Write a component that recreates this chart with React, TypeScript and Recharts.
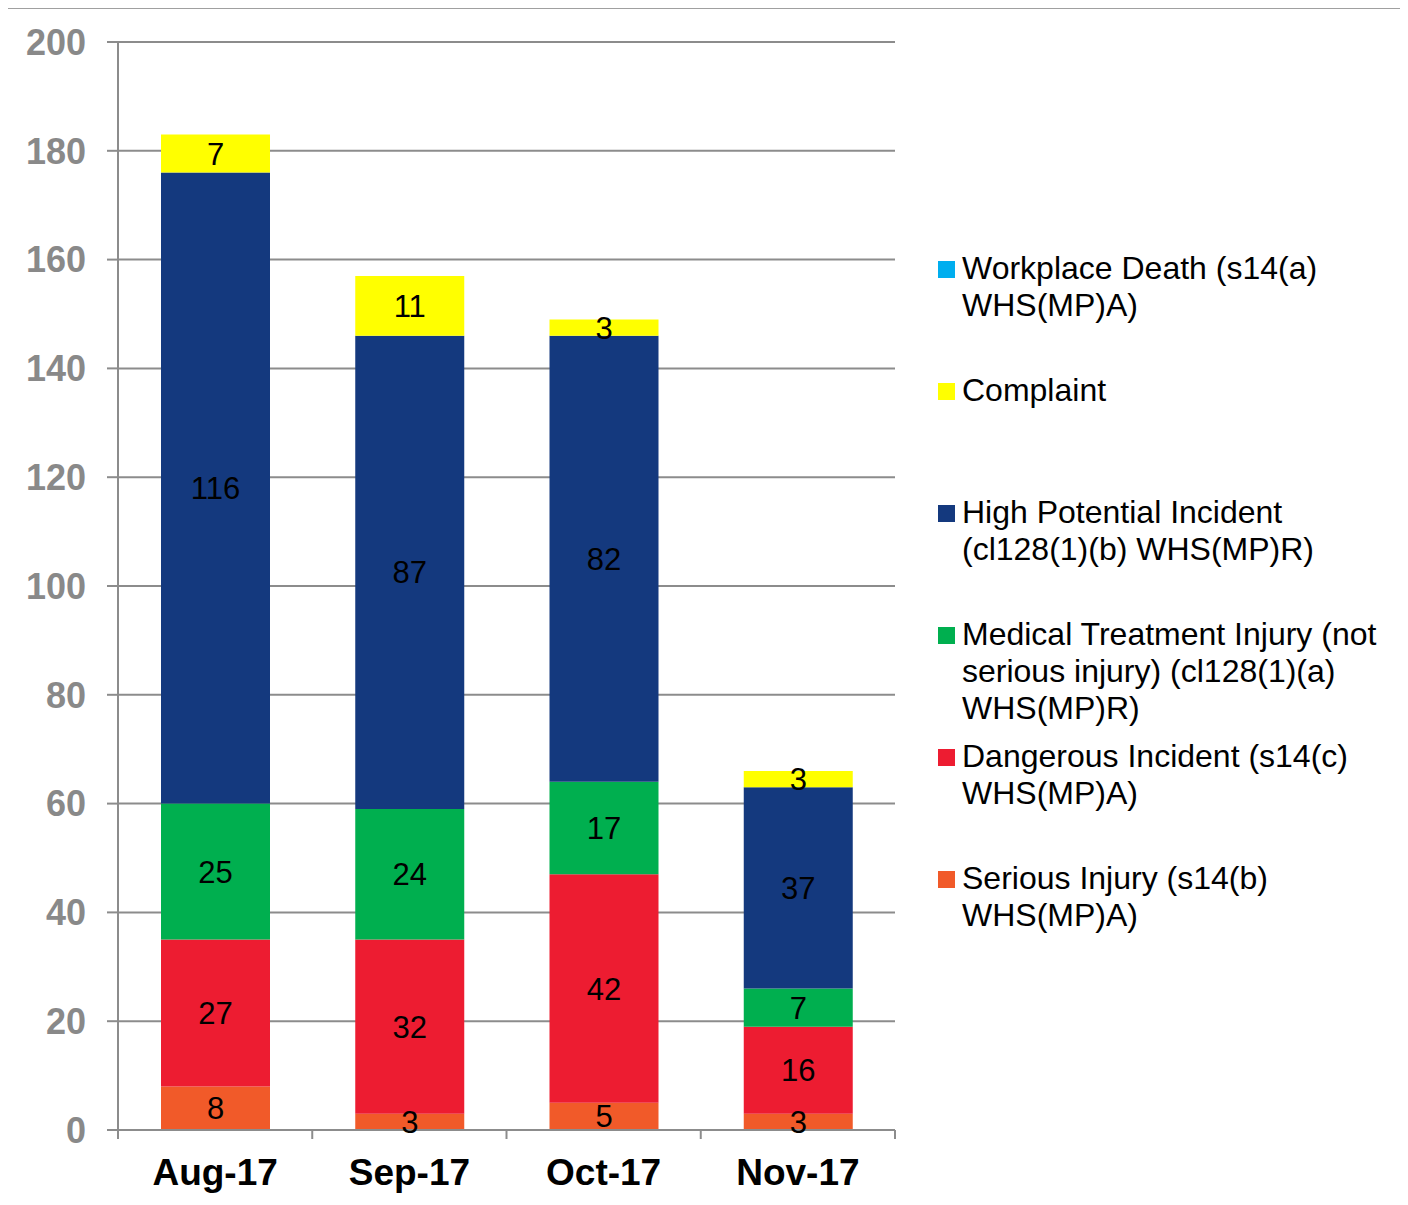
import {
  BarChart,
  Bar,
  XAxis,
  YAxis,
  CartesianGrid,
  LabelList,
} from "recharts";

const months = ["Aug-17", "Sep-17", "Oct-17", "Nov-17"];
const seriousInjury = [8, 3, 5, 3];
const dangerousIncident = [27, 32, 42, 16];
const medicalTreatment = [25, 24, 17, 7];
const highPotential = [116, 87, 82, 37];
const complaint = [7, 11, 3, 3];
const workplaceDeath = [0, 0, 0, 0];
const yTicks = [0, 20, 40, 60, 80, 100, 120, 140, 160, 180, 200];

const data = months.map((m, i) => ({
  month: m,
  serious: seriousInjury[i],
  dangerous: dangerousIncident[i],
  medical: medicalTreatment[i],
  high: highPotential[i],
  complaint: complaint[i],
  death: workplaceDeath[i],
}));

const SERIES = [
  { key: "serious", color: "#F15A29", label: true },
  { key: "dangerous", color: "#ED1C31", label: true },
  { key: "medical", color: "#00AF4F", label: true },
  { key: "high", color: "#14397E", label: true },
  { key: "complaint", color: "#FFFF00", label: true },
  { key: "death", color: "#00AEEF", label: false },
];

// legend order top to bottom, with the line breaks used in the original
const LEGEND = [
  { key: "death", lines: ["Workplace Death (s14(a)", "WHS(MP)A)"] },
  { key: "complaint", lines: ["Complaint"] },
  { key: "high", lines: ["High Potential Incident", "(cl128(1)(b) WHS(MP)R)"] },
  { key: "medical", lines: ["Medical Treatment Injury (not", "serious injury) (cl128(1)(a)", "WHS(MP)R)"] },
  { key: "dangerous", lines: ["Dangerous Incident (s14(c)", "WHS(MP)A)"] },
  { key: "serious", lines: ["Serious Injury (s14(b)", "WHS(MP)A)"] },
];

const FONT = "Arial, 'Liberation Sans', sans-serif";
const GRID = "#8c8c8c";
const FRAME = "#a0a0a0";

// month label plus the tick marks that sit between categories (as in Excel)
function MonthTick(props: any) {
  const { x, y, payload, index, visibleTicksCount, width } = props;
  const count = visibleTicksCount || months.length;
  const half = width ? width / count / 2 : 0;
  return (
    <g>
      {half > 0 && (
        <line x1={x - half} x2={x - half} y1={y} y2={y + 9} stroke={GRID} strokeWidth={2} />
      )}
      {half > 0 && index === count - 1 && (
        <line x1={x + half} x2={x + half} y1={y} y2={y + 9} stroke={GRID} strokeWidth={2} />
      )}
      <text
        x={x}
        y={y + 29}
        dy="0.71em"
        textAnchor="middle"
        fill="#000"
        fontSize={37}
        fontWeight="bold"
        fontFamily={FONT}
      >
        {payload.value}
      </text>
    </g>
  );
}

function LegendBox() {
  return (
    <div
      style={{
        position: "absolute",
        left: 930,
        top: 242,
        fontFamily: FONT,
        fontSize: 32,
        color: "#000",
      }}
    >
      {LEGEND.map((item) => {
        const s = SERIES.find((x) => x.key === item.key)!;
        return (
          <div key={item.key} style={{ height: 122, display: "flex", alignItems: "flex-start" }}>
            <div
              style={{
                width: 17,
                height: 17,
                background: s.color,
                marginTop: 11,
                marginRight: 7,
                flex: "none",
              }}
            />
            <div style={{ lineHeight: "37px", whiteSpace: "nowrap" }}>
              {item.lines.map((l, i) => (
                <div key={i}>{l}</div>
              ))}
            </div>
          </div>
        );
      })}
    </div>
  );
}

export default function App() {
  return (
    <div style={{ position: "relative", width: 1390, height: 1197 }}>
      <svg
        width={1400}
        height={1197}
        style={{ position: "absolute", left: -4, top: -1, zIndex: 5, pointerEvents: "none" }}
      >
        <path d="M3 1197 V1 H1397 V1197" fill="none" stroke={FRAME} strokeWidth={2} />
      </svg>
      <BarChart
        width={1390}
        height={1197}
        data={data}
        margin={{ top: 34, right: 503, bottom: 45, left: 0 }}
        style={{ fontFamily: FONT }}
      >
        <CartesianGrid vertical={false} stroke={GRID} strokeWidth={2} />
        <XAxis
          dataKey="month"
          height={30}
          axisLine={{ stroke: GRID, strokeWidth: 2 }}
          tickLine={false}
          tickSize={0}
          tickMargin={0}
          tick={<MonthTick />}
        />
        <YAxis
          width={110}
          domain={[0, 200]}
          ticks={yTicks}
          interval={0}
          tickSize={11}
          tickMargin={21}
          axisLine={{ stroke: GRID, strokeWidth: 2 }}
          tickLine={{ stroke: GRID, strokeWidth: 2 }}
          tick={{ fill: "#898989", fontSize: 36, fontWeight: "bold", fontFamily: FONT }}
        />
        {SERIES.map((s) => (
          <Bar
            key={s.key}
            dataKey={s.key}
            stackId="a"
            fill={s.color}
            barSize={109}
            isAnimationActive={false}
          >
            {s.label && (
              <LabelList
                dataKey={s.key}
                position="center"
                fill="#000"
                fontSize={31}
                fontFamily={FONT}
              />
            )}
          </Bar>
        ))}
      </BarChart>
      <LegendBox />
    </div>
  );
}
